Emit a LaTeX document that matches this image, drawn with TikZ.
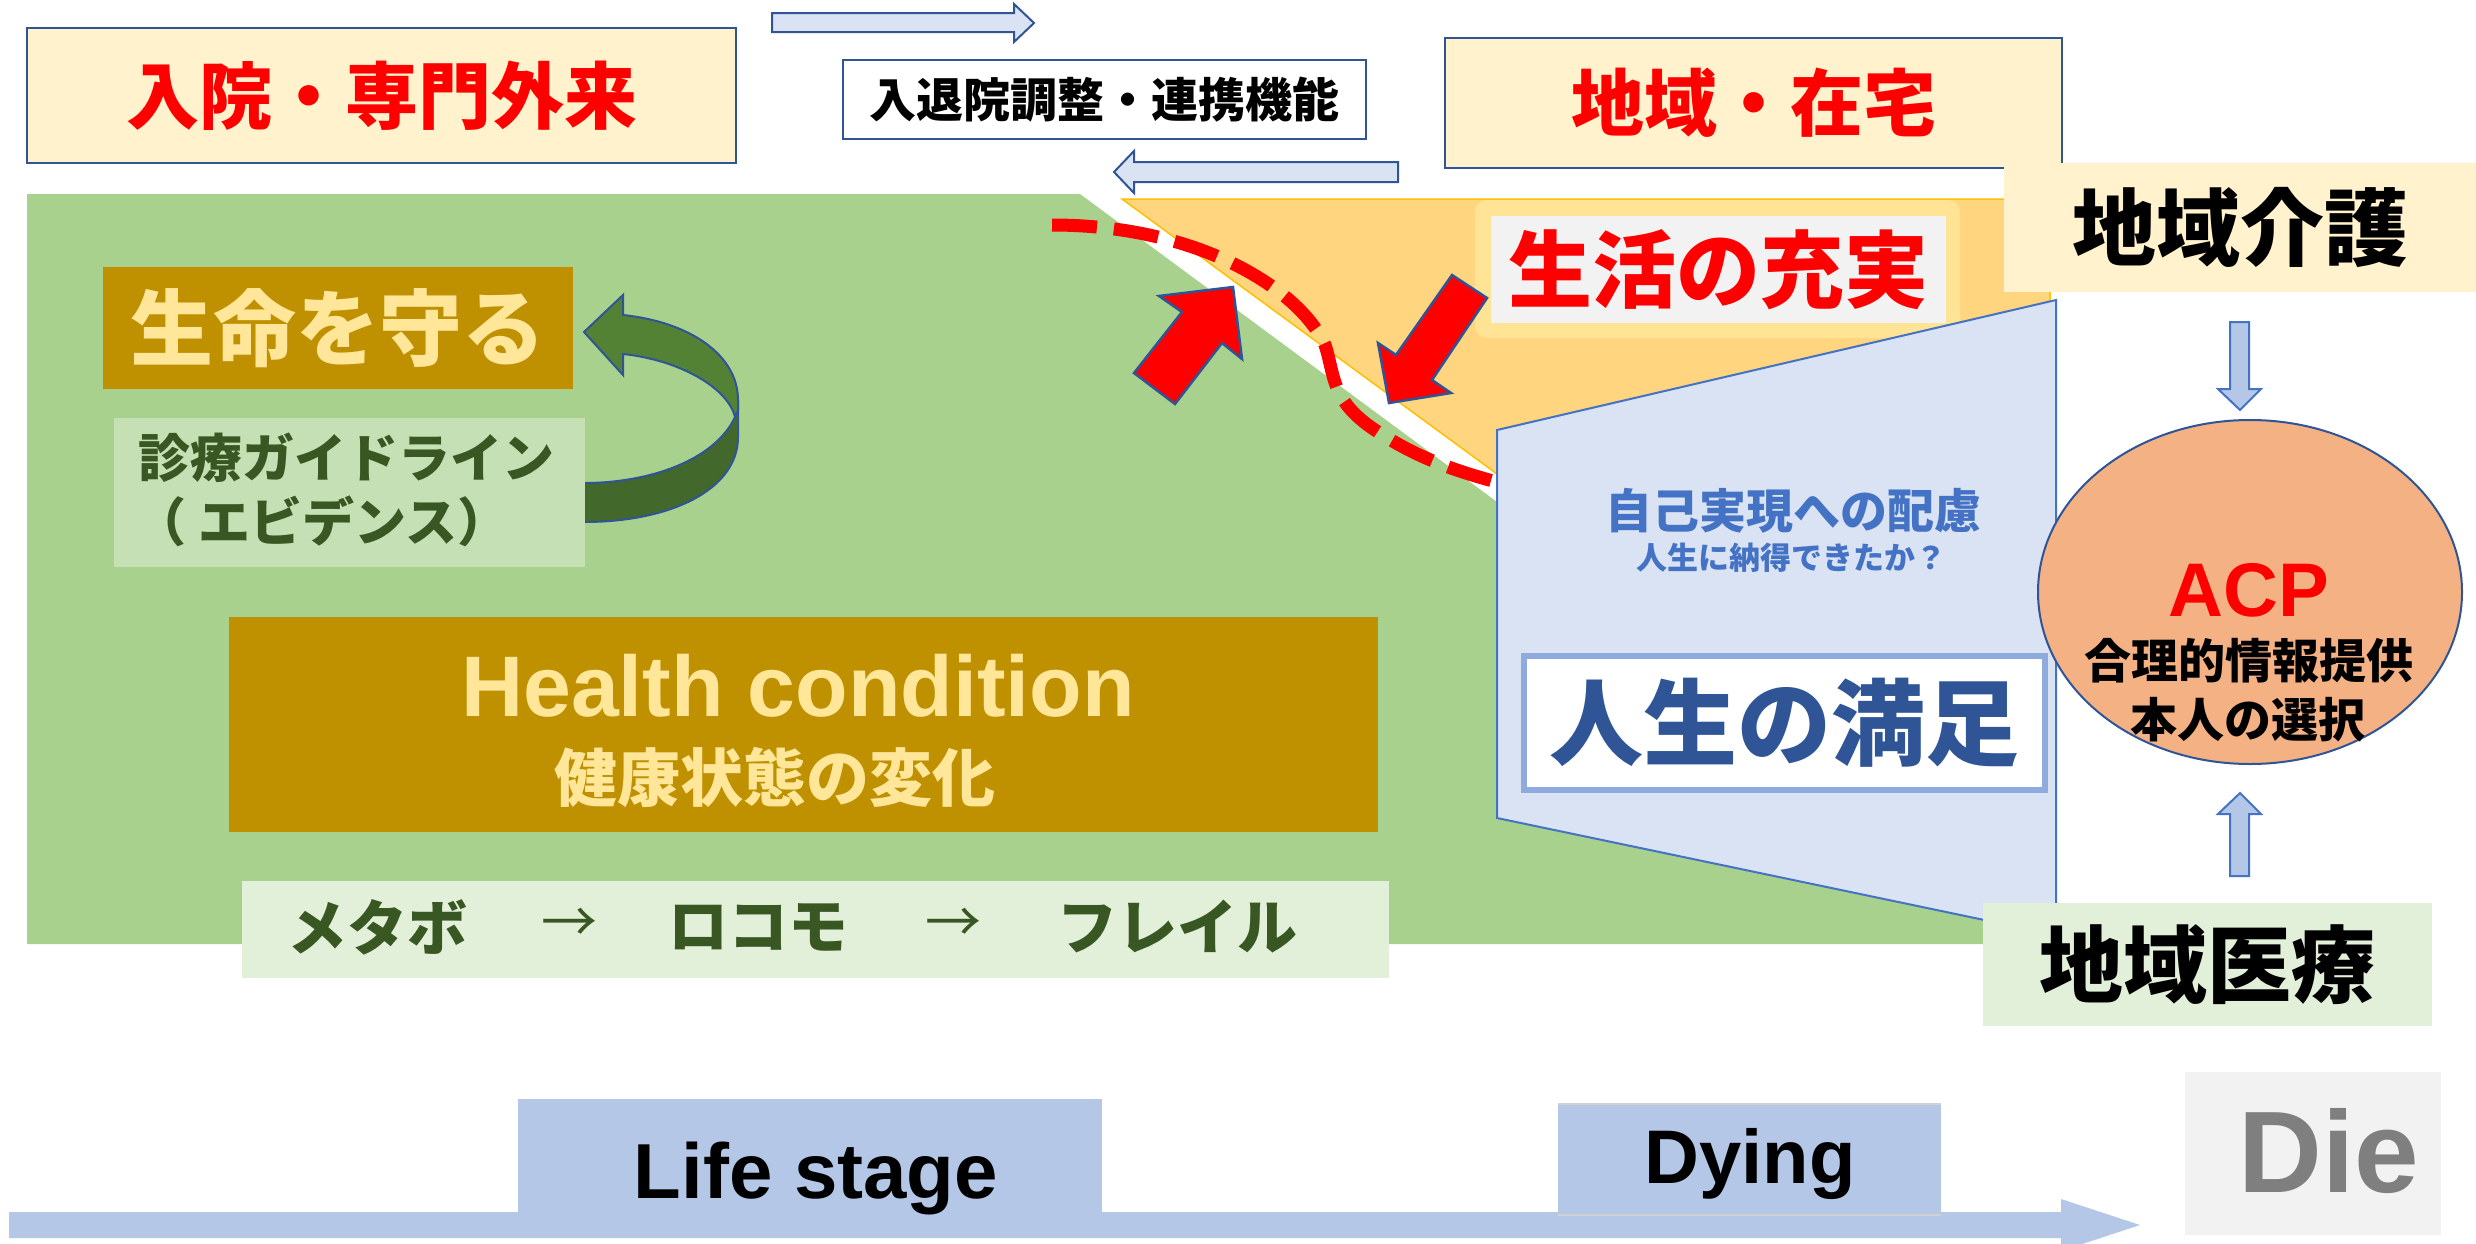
\documentclass[tikz,border=0pt]{standalone}
\usepackage{fontspec}
\setmainfont{Liberation Sans}
\newfontfamily\jp{Noto Sans CJK JP}
\usetikzlibrary{shapes.geometric}
\newcommand{\setfz}[1]{\fontsize{#1}{#1}\selectfont}
\definecolor{dkblue}{HTML}{2F5597}
\definecolor{midblue}{HTML}{4472C4}
\definecolor{ltblue}{HTML}{B4C7E7}
\definecolor{paleblue}{HTML}{DAE3F3}
\definecolor{ylw}{HTML}{FFF2CC}
\definecolor{grn}{HTML}{A9D18E}
\definecolor{grn2}{HTML}{C5E0B4}
\definecolor{grn3}{HTML}{E2F0D9}
\definecolor{dkgrn}{HTML}{385723}
\definecolor{gold}{HTML}{BF9000}
\definecolor{goldtxt}{HTML}{FFE699}
\definecolor{orng}{HTML}{FFD580}
\definecolor{orngline}{HTML}{FFC000}
\definecolor{yel2}{HTML}{FFE495}
\definecolor{gry}{HTML}{F2F2F2}
\definecolor{satb}{HTML}{8FAADC}
\definecolor{salmon}{HTML}{F4B183}
\definecolor{arrgA}{HTML}{548235}
\definecolor{arrgB}{HTML}{43682B}
\definecolor{dietxt}{HTML}{7F7F7F}
\begin{document}
\begin{tikzpicture}[x=1pt,y=-1pt,
  jb/.style={font=\jp\bfseries, inner sep=0pt},
  lat/.style={font=\bfseries, inner sep=0pt, anchor=base},
  topbox/.style={draw=dkblue, line width=2.5pt, inner sep=0pt},
  flatbox/.style={inner sep=0pt},
  blockarrow/.style={fill=paleblue, draw=dkblue, line width=2pt},
  vertarrow/.style={fill=ltblue, draw=midblue, line width=2pt},
  redarrow/.style={fill=red, draw=dkblue, line width=2.5pt, line join=miter},
  greenarrow/.style={draw=dkblue, line width=2pt},
]
\useasboundingbox (0,0) rectangle (2476,1243);
\fill[white] (0,0) rectangle (2476,1243);

% ---------- background regions ----------
\fill[grn] (27,194) -- (1080,194) -- (1600,578) -- (1985,578) -- (1985,944) -- (27,944) -- cycle;
\filldraw[fill=orng, draw=orngline, line width=1.5pt] (1122,199) -- (2050,199) -- (2050,305) -- (1497,440) -- (1497,474) -- cycle;
\fill[yel2, rounded corners=12pt] (1475,200) rectangle (1960,338);
\node[flatbox, fill=gry, minimum width=455, minimum height=107, jb, text=red, font=\jp\bfseries\setfz{84}] (life) at (1718.5,269.5) {生活の充実};

% ---------- red dashed boundary ----------
\draw[red, line width=13pt, dash pattern=on 45pt off 17pt]
  (1052,225) .. controls (1200,225) and (1300,290) .. (1325,345)
  .. controls (1335,375) and (1330,400) .. (1375,430)
  .. controls (1420,460) and (1460,472) .. (1500,483);

% ---------- red block arrows ----------
\draw[redarrow] (1233,287) -- (1242,359) -- (1222,343) -- (1175,404) -- (1134,373) -- (1182,312) -- (1159,296) -- cycle;
\draw[redarrow] (1389,403) -- (1378,343) -- (1396,355) -- (1452,275) -- (1487,298) -- (1432,380) -- (1451,393) -- cycle;

% ---------- trapezoid ----------
\filldraw[fill=paleblue, draw=midblue, line width=2pt] (1497,430) -- (2056,300) -- (2056,935) -- (1497,818) -- cycle;
\node[jb, text=midblue, font=\jp\bfseries\setfz{47}] (selfreal) at (1793,511) {自己実現への配慮};
\node[jb, text=midblue, font=\jp\bfseries\setfz{31}] (nattoku) at (1791,558) {人生に納得できたか？};
\node[draw=satb, line width=6pt, fill=white, minimum width=521, minimum height=134, inner sep=0pt, text=dkblue, font=\jp\bfseries\setfz{94}] (satis) at (1784.5,723) {人生の満足};

% ---------- top boxes ----------
\node[topbox, fill=ylw, minimum width=709, minimum height=135, text=red, font=\jp\bfseries\setfz{73}] (hosp) at (381.5,95.5) {入院・専門外来};
\node[topbox, fill=white, minimum width=523, minimum height=79, text=black, font=\jp\bfseries\setfz{47}] (coord) at (1104.5,99.5) {入退院調整・連携機能};
\node[topbox, fill=ylw, minimum width=617, minimum height=130, text=red, font=\jp\bfseries\setfz{73}] (home) at (1753.5,103) {地域・在宅};
\draw[blockarrow] (772,13) -- (1014,13) -- (1014,4) -- (1034,23) -- (1014,42) -- (1014,32) -- (772,32) -- cycle;
\draw[blockarrow] (1398,162) -- (1134,162) -- (1134,151) -- (1114,172) -- (1134,193) -- (1134,182) -- (1398,182) -- cycle;

% ---------- left green area content ----------
\node[flatbox, fill=gold, minimum width=470, minimum height=122, text=goldtxt, font=\jp\bfseries\setfz{83}] (protect) at (338,328) {生命を守る};
% curved arrow
\filldraw[greenarrow, fill=arrgB] (735,417) .. controls (715,460) and (650,483) .. (584,483) -- (584,522) .. controls (670,522) and (738,490) .. (738,437) -- (738,400) -- cycle;
\filldraw[greenarrow, fill=arrgA] (623,295) -- (584,332) -- (623,375) -- (623,354) .. controls (680,360) and (728,388) .. (735,417) -- (738,410) -- (738,400) .. controls (738,355) and (690,322) .. (623,315) -- cycle;
\node[flatbox, fill=grn2, minimum width=471, minimum height=149] (guide) at (349.5,492.5) {};
\node[jb, text=dkgrn, font=\jp\bfseries\setfz{52}] (guideA) at (346,458) {診療ガイドライン};
\node[jb, text=dkgrn, font=\jp\bfseries\setfz{52}] (guideB) at (322,521) {（ エビデンス）};

\node[flatbox, fill=gold, minimum width=1149, minimum height=215] (health) at (803.5,724.5) {};
\node[lat, text=goldtxt, font=\bfseries\setfz{86}] (healthA) at (798,716) {Health condition};
\node[jb, text=goldtxt, font=\jp\bfseries\setfz{63}] (healthB) at (775,777) {健康状態の変化};

\node[flatbox, fill=grn3, minimum width=1147, minimum height=97] (stages) at (815.5,929.5) {};
\node[jb, text=dkgrn, font=\jp\bfseries\setfz{60}] (meta) at (377,927) {メタボ};
\node[inner sep=0pt, text=dkgrn, font=\jp\setfz{56}] (ar1) at (569,925) {→};
\node[jb, text=dkgrn, font=\jp\bfseries\setfz{60}] (loco) at (758,927) {ロコモ};
\node[inner sep=0pt, text=dkgrn, font=\jp\setfz{56}] (ar2) at (953,925) {→};
\node[jb, text=dkgrn, font=\jp\bfseries\setfz{60}] (frail) at (1177,927) {フレイル};

% ---------- right column ----------
\node[flatbox, fill=ylw, minimum width=472, minimum height=129, text=black, font=\jp\bfseries\setfz{84}] (care) at (2240,227.5) {地域介護};
\node[ellipse, draw=dkblue, line width=2pt, fill=salmon, minimum width=424, minimum height=344, inner sep=0pt] (acp) at (2250,592) {};
\node[lat, text=red, font=\bfseries\setfz{76}] (acpA) at (2249,616) {ACP};
\node[jb, text=black, font=\jp\bfseries\setfz{47}] (acpB) at (2249,661) {合理的情報提供};
\node[jb, text=black, font=\jp\bfseries\setfz{47}] (acpC) at (2248,720) {本人の選択};
\node[flatbox, fill=grn3, minimum width=449, minimum height=123, text=black, font=\jp\bfseries\setfz{84}] (med) at (2207.5,964.5) {地域医療};
\draw[vertarrow] (2230,322) -- (2249,322) -- (2249,389) -- (2261,389) -- (2240,410) -- (2218,389) -- (2230,389) -- cycle;
\draw[vertarrow] (2230,876) -- (2249,876) -- (2249,814) -- (2261,814) -- (2240,793) -- (2218,814) -- (2230,814) -- cycle;

% ---------- timeline ----------
\fill[ltblue] (9,1212) -- (2061,1212) -- (2061,1199) -- (2140,1225) -- (2061,1251) -- (2061,1238) -- (9,1238) -- cycle;
\node[flatbox, fill=ltblue, minimum width=584, minimum height=114] (lifestage) at (810,1156) {};
\node[lat, text=black, font=\bfseries\setfz{78}] at (816,1198) {Life stage};
\node[flatbox, fill=ltblue, minimum width=383, minimum height=111] (dying) at (1749.5,1159.5) {};
\draw[black!18, line width=1.5pt] (dying.north west) -- (dying.north east) (dying.south west) -- (dying.south east);
\node[lat, text=black, font=\bfseries\setfz{76}] at (1750,1183) {Dying};
\node[flatbox, fill=gry, minimum width=256, minimum height=163] (die) at (2313,1153.5) {};
\node[lat, text=dietxt, font=\bfseries\setfz{116}] at (2329,1192) {Die};
\end{tikzpicture}
\end{document}
